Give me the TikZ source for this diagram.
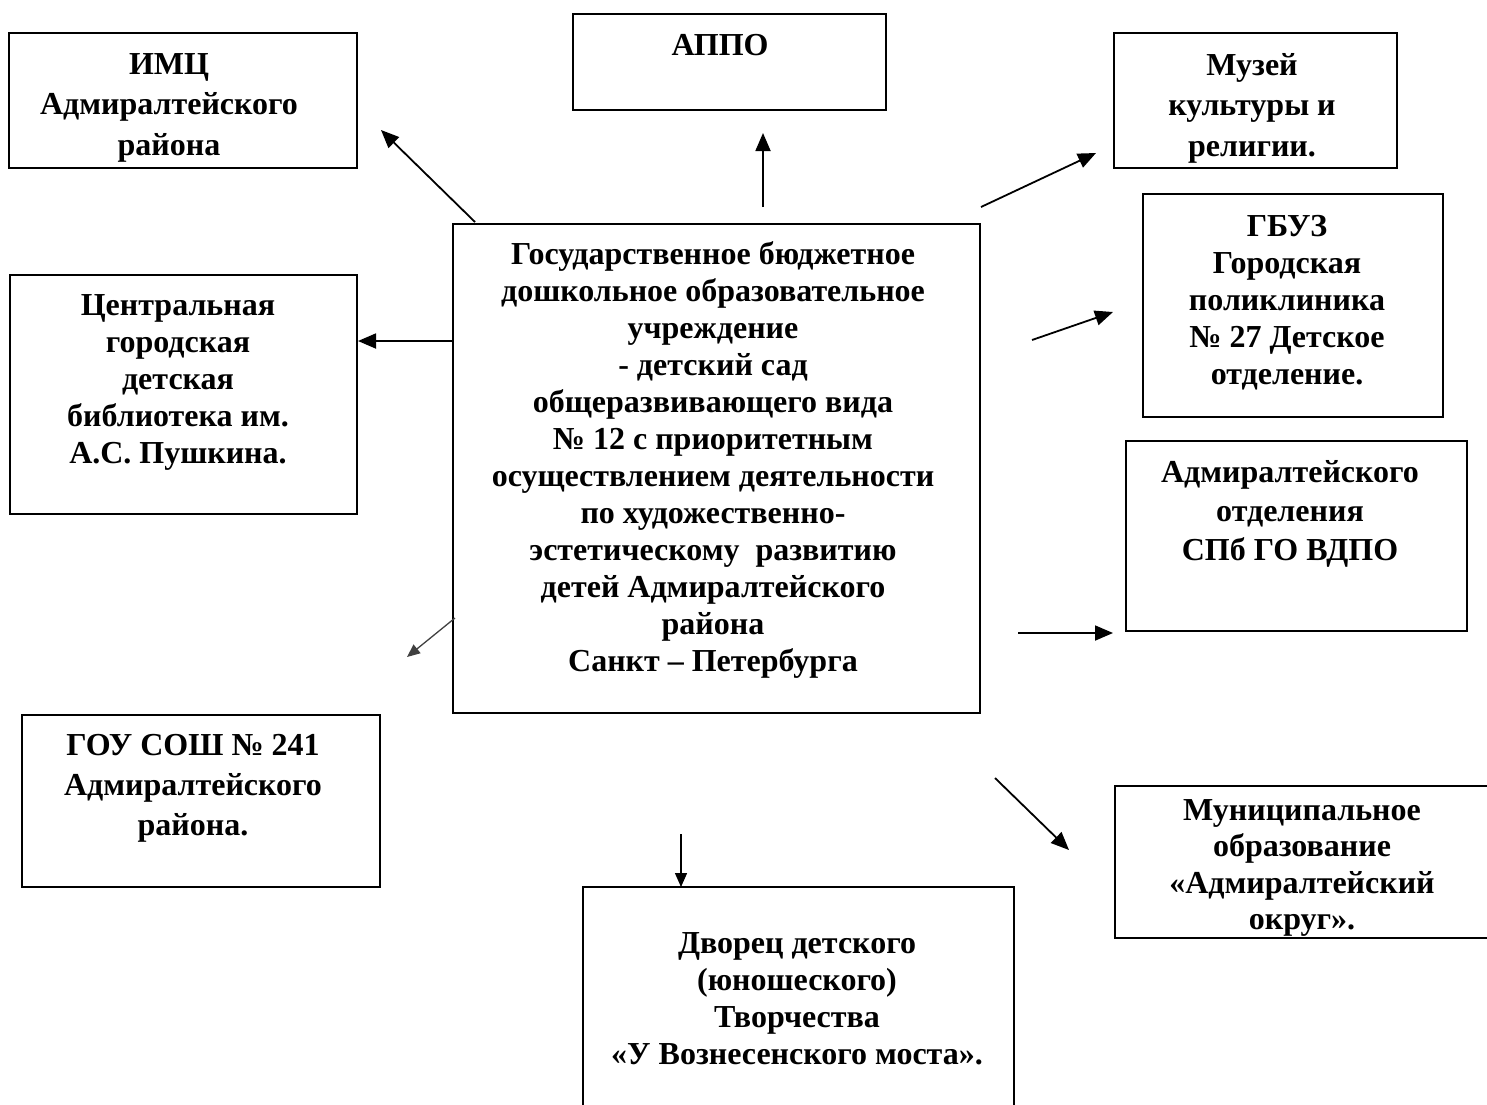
\documentclass[tikz,border=0pt]{standalone}
\usepackage{fontspec}
\setmainfont{Liberation Serif}
\usetikzlibrary{arrows.meta}
\begin{document}
\begin{tikzpicture}[x=1pt,y=-1pt,
  box/.style={draw=black,line width=1.8pt,inner sep=0pt},
  thinbox/.style={draw=black,line width=1.3pt,inner sep=0pt},
  txt/.style={align=center,inner sep=0pt,anchor=north,font=\bfseries\fontsize{32}{37}\selectfont},
  wide/.style={font=\bfseries\fontsize{32}{40.5}\selectfont},
  arr/.style={line width=1.8pt,-{Triangle[length=18pt,width=15pt]}},
  thinarr/.style={line width=1.3pt,-{Triangle[length=14pt,width=12pt]}},
  greyarr/.style={line width=1.3pt,draw=black!75,-{Triangle[length=13pt,width=11pt]}}
]
\useasboundingbox (0,0) rectangle (1487,1104);
\clip (0,0) rectangle (1487,1104);

% boxes
\node[box,minimum width=348pt,minimum height=135pt] (imc) at (183,100.5) {};
\node[box,minimum width=313pt,minimum height=96pt] (appo) at (729.5,62) {};
\node[box,minimum width=283pt,minimum height=135pt] (muz) at (1255.5,100.5) {};
\node[box,minimum width=300pt,minimum height=223pt] (gbuz) at (1293,305.5) {};
\node[box,minimum width=527pt,minimum height=489pt] (cen) at (716.5,468.5) {};
\node[box,minimum width=347pt,minimum height=239pt] (lib) at (183.5,394.5) {};
\node[box,minimum width=341pt,minimum height=190pt] (vdpo) at (1296.5,536) {};
\node[box,minimum width=358pt,minimum height=172pt] (gou) at (201,801) {};
\node[thinbox,minimum width=385pt,minimum height=152pt] (mun) at (1307.5,862) {};
\node[thinbox,minimum width=431pt,minimum height=226pt] (dvor) at (798.5,1000) {};

% texts
\node[txt,wide] (imcT) at (169,53) {ИМЦ\\Адмиралтейского\\района};
\node[txt] (appoT) at (720,34) {АППО};
\node[txt,wide] (muzT) at (1252,53) {Музей\\культуры и\\религии.};
\node[txt] (gbuzT) at (1287,215) {ГБУЗ\\Городская\\поликлиника\\№ 27 Детское\\отделение.};
\node[txt] (cenT) at (713,241) {Государственное бюджетное\\дошкольное образовательное\\учреждение\\- детский сад\\общеразвивающего вида\\№ 12 с приоритетным\\осуществлением деятельности\\по художественно-\\эстетическому\ \ развитию\\детей Адмиралтейского\\района\\Санкт – Петербурга};
\node[txt] (libT) at (178,294) {Центральная\\городская\\детская\\библиотека им.\\А.С. Пушкина.};
\node[txt,font=\bfseries\fontsize{32}{39}\selectfont] (vdpoT) at (1290,460) {Адмиралтейского\\отделения\\СПб ГО ВДПО};
\node[txt,font=\bfseries\fontsize{32}{40}\selectfont] (gouT) at (193,734) {ГОУ СОШ № 241\\Адмиралтейского\\района.};
\node[txt,font=\bfseries\fontsize{32}{36.5}\selectfont] (munT) at (1302,799) {Муниципальное\\образование\\«Адмиралтейский\\округ».};
\node[txt] (dvorT) at (797,932) {Дворец детского\\(юношеского)\\Творчества\\«У Вознесенского моста».};

% connector ends
\coordinate (s1) at (475,222);  \coordinate (e1) at (381,130);
\coordinate (s2) at (763,207);  \coordinate (e2) at (763,133);
\coordinate (s3) at (981,207);  \coordinate (e3) at (1096,153);
\coordinate (s4) at (453,341);  \coordinate (e4) at (358,341);
\coordinate (s5) at (1032,340); \coordinate (e5) at (1113,312);
\coordinate (s6) at (455,618);  \coordinate (e6) at (407,657);
\coordinate (s7) at (1018,633); \coordinate (e7) at (1113,633);
\coordinate (s8) at (995,778);  \coordinate (e8) at (1069,850);
\coordinate (s9) at (681,834);  \coordinate (e9) at (681,887);

\draw[arr] (s1) -- (e1);
\draw[arr] (s2) -- (e2);
\draw[arr] (s3) -- (e3);
\draw[arr] (s4) -- (e4);
\draw[arr] (s5) -- (e5);
\draw[greyarr] (s6) -- (e6);
\draw[arr] (s7) -- (e7);
\draw[arr] (s8) -- (e8);
\draw[thinarr] (s9) -- (e9);
\end{tikzpicture}
\end{document}
